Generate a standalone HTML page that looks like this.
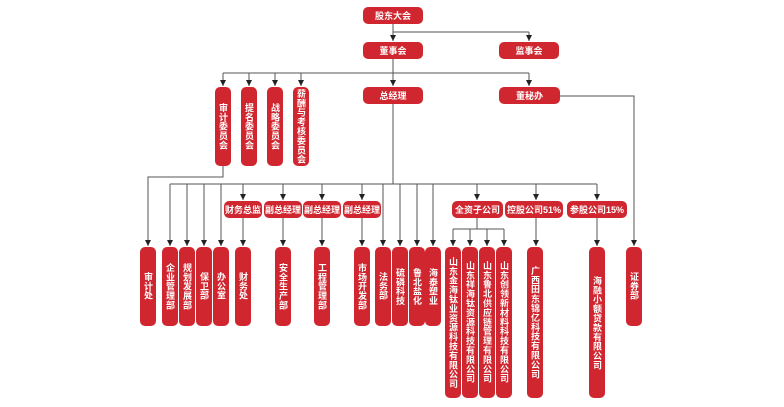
<!DOCTYPE html>
<html><head><meta charset="utf-8"><style>
body{margin:0;width:784px;height:407px;background:#fff;position:relative;overflow:hidden;font-family:"Liberation Sans","Noto Sans CJK SC",sans-serif}
.b{position:absolute;background:#d0262f;color:#fff;border-radius:5px;font-size:9px;font-weight:bold;display:flex;align-items:center;justify-content:center;white-space:nowrap;box-sizing:border-box;overflow:hidden}
.v{writing-mode:vertical-rl;text-orientation:upright;letter-spacing:0.4px;line-height:16px}
svg{position:absolute;left:0;top:0}
</style></head><body>
<svg width="784" height="407" stroke="#555" stroke-width="1" fill="none">
<defs><marker id="a" markerUnits="userSpaceOnUse" markerWidth="6" markerHeight="6" refX="6" refY="3" orient="auto" viewBox="0 0 6 6"><path d="M0,0 L6,3 L0,6z" fill="#222" stroke="none"/></marker></defs>
<path d="M393 32 H529"/>
<path d="M223 73 H529"/>
<path d="M170 184 H597"/>
<path d="M453 229 H504"/>
<path d="M393 104 V184"/>
<path d="M477 218 V229"/>
<g marker-end="url(#a)">
<path d="M393 24 V41"/>
<path d="M529 32 V41"/>
<path d="M393 59 V86"/>
<path d="M529 73 V86"/>
<path d="M223 73 V86"/><path d="M249 73 V86"/><path d="M275 73 V86"/><path d="M301 73 V86"/>
<path d="M223 166 V177 H148 V246"/>
<path d="M170 184 V246"/><path d="M187 184 V246"/><path d="M204 184 V246"/><path d="M221 184 V246"/>
<path d="M243 184 V200"/><path d="M283 184 V200"/><path d="M322 184 V200"/><path d="M362 184 V200"/>
<path d="M383 184 V246"/><path d="M400 184 V246"/><path d="M417 184 V246"/><path d="M433 184 V246"/>
<path d="M477 184 V200"/><path d="M536 184 V200"/><path d="M597 184 V200"/>
<path d="M243 218 V246"/><path d="M283 218 V246"/><path d="M322 218 V246"/><path d="M362 218 V246"/>
<path d="M453 229 V246"/><path d="M470 229 V246"/><path d="M487 229 V246"/><path d="M504 229 V246"/>
<path d="M536 218 V246"/><path d="M597 218 V246"/>
<path d="M560 96 H634 V246"/>
</g>
</svg>
<div class="b" style="left:363px;top:7px;width:60px;height:17px">股东大会</div>
<div class="b" style="left:363px;top:42px;width:60px;height:17px">董事会</div>
<div class="b" style="left:499px;top:42px;width:60px;height:17px">监事会</div>
<div class="b" style="left:363px;top:87px;width:60px;height:17px">总经理</div>
<div class="b" style="left:499px;top:87px;width:61px;height:17px">董秘办</div>
<div class="b v" style="left:215px;top:87px;width:16px;height:79px">审计委员会</div>
<div class="b v" style="left:241px;top:87px;width:16px;height:79px">提名委员会</div>
<div class="b v" style="left:267px;top:87px;width:16px;height:79px">战略委员会</div>
<div class="b v" style="left:293px;top:87px;width:16px;height:79px">薪酬与考核委员会</div>
<div class="b" style="left:224px;top:201px;width:38px;height:17px">财务总监</div>
<div class="b" style="left:264px;top:201px;width:38px;height:17px">副总经理</div>
<div class="b" style="left:303px;top:201px;width:38px;height:17px">副总经理</div>
<div class="b" style="left:343px;top:201px;width:38px;height:17px">副总经理</div>
<div class="b" style="left:452px;top:201px;width:51px;height:17px">全资子公司</div>
<div class="b" style="left:505px;top:201px;width:58px;height:17px">控股公司51%</div>
<div class="b" style="left:567px;top:201px;width:60px;height:17px">参股公司15%</div>
<div class="b v" style="left:140px;top:247px;width:16px;height:79px">审计处</div>
<div class="b v" style="left:162px;top:247px;width:16px;height:79px">企业管理部</div>
<div class="b v" style="left:179px;top:247px;width:16px;height:79px">规划发展部</div>
<div class="b v" style="left:196px;top:247px;width:16px;height:79px">保卫部</div>
<div class="b v" style="left:213px;top:247px;width:16px;height:79px">办公室</div>
<div class="b v" style="left:235px;top:247px;width:16px;height:79px">财务处</div>
<div class="b v" style="left:275px;top:247px;width:16px;height:79px">安全生产部</div>
<div class="b v" style="left:314px;top:247px;width:16px;height:79px">工程管理部</div>
<div class="b v" style="left:354px;top:247px;width:16px;height:79px">市场开发部</div>
<div class="b v" style="left:375px;top:247px;width:16px;height:79px">法务部</div>
<div class="b v" style="left:392px;top:247px;width:16px;height:79px">硫磷科技</div>
<div class="b v" style="left:409px;top:247px;width:16px;height:79px">鲁北盐化</div>
<div class="b v" style="left:425px;top:247px;width:16px;height:79px">海泰塑业</div>
<div class="b v" style="left:445px;top:247px;width:16px;height:151px">山东金海钛业资源科技有限公司</div>
<div class="b v" style="left:462px;top:247px;width:16px;height:151px">山东祥海钛资源科技有限公司</div>
<div class="b v" style="left:479px;top:247px;width:16px;height:151px">山东鲁北供应链管理有限公司</div>
<div class="b v" style="left:496px;top:247px;width:16px;height:151px">山东创领新材料科技有限公司</div>
<div class="b v" style="left:527px;top:247px;width:16px;height:151px">广西田东锦亿科技有限公司</div>
<div class="b v" style="left:589px;top:247px;width:16px;height:151px">海融小额贷款有限公司</div>
<div class="b v" style="left:626px;top:247px;width:16px;height:79px">证券部</div>
</body></html>
